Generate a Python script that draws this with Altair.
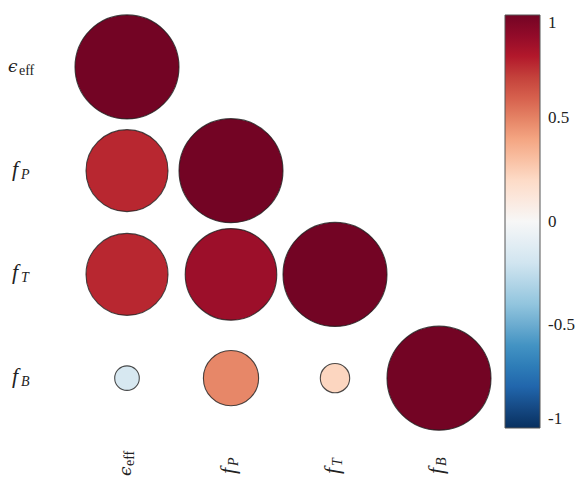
import altair as alt
import pandas as pd

# Variables of the correlation matrix and how their names are typeset
variables = ["eff", "P", "T", "B"]
main_text = ["ϵ", "f", "f", "f"]
sub_text = ["eff", "P", "T", "B"]

# Lower triangle of the correlation matrix (row variable, column variable, r)
row_vars = ["eff", "P", "P", "T", "T", "T", "B", "B", "B", "B"]
col_vars = ["eff", "eff", "P", "eff", "P", "T", "eff", "P", "T", "B"]
corr_values = [1.0, 0.77, 1.0, 0.77, 0.87, 1.0, -0.17, 0.49, 0.22, 1.0]

legend_values = [1, 0.5, 0, -0.5, -1]

# Diverging red-blue palette, stops from -1 to 1
palette_stops = [-1.0, -0.8, -0.6, -0.4, -0.2, 0.0, 0.2, 0.4, 0.6, 0.8, 1.0]
palette_colors = ["#08305f", "#2166ac", "#4393c3", "#92c5de", "#d1e5f0",
                  "#f7f7f7", "#fddbc7", "#f4a582", "#d6604d", "#b2182b",
                  "#730424"]

cells = pd.DataFrame({"row": row_vars, "col": col_vars, "r": corr_values})
labels = pd.DataFrame({"var": variables, "main": main_text, "sub": sub_text})
eps_labels = labels[labels["var"] == "eff"]
f_labels = labels[labels["var"] != "eff"]

SERIF = "Liberation Serif"
GREEK = "DejaVu Serif"
INK = "#222222"
MAX_SIZE = 104 * 104  # symbol size (bounding-box area) for |r| = 1

x_scale = alt.Scale(domain=variables)
y_scale = alt.Scale(domain=variables)

circles = (
    alt.Chart(cells)
    .transform_calculate(area="pow(0.08 + 0.92 * abs(datum.r), 2)")
    .mark_circle(opacity=1, stroke="#1e1e1e", strokeWidth=1.1, strokeOpacity=0.8)
    .encode(
        x=alt.X("col:N", scale=x_scale, axis=None),
        y=alt.Y("row:N", scale=y_scale, axis=None),
        size=alt.Size(
            "area:Q",
            scale=alt.Scale(domain=[0, 1], range=[0, MAX_SIZE], zero=True),
            legend=None,
        ),
        color=alt.Color(
            "r:Q",
            scale=alt.Scale(domain=palette_stops, range=palette_colors),
            legend=alt.Legend(
                title=None,
                orient="right",
                direction="vertical",
                values=legend_values,
                labelExpr="'' + datum.value",
                gradientLength=413,
                gradientThickness=35,
                gradientStrokeColor="#555555",
                gradientStrokeWidth=1,
                labelFont=SERIF,
                labelFontSize=17,
                labelColor=INK,
                labelOffset=8,
                labelBaseline="middle",
                offset=14,
                padding=0,
            ),
        ),
    )
)


def y_label(df, field, x, dy, size, style, font=SERIF):
    return alt.Chart(df).mark_text(
        align="left", baseline="alphabetic", font=font, fontSize=size,
        fontStyle=style, dy=dy, color=INK,
    ).encode(
        x=alt.value(x),
        y=alt.Y("var:N", scale=y_scale, axis=None),
        text=f"{field}:N",
    )


def x_label(df, field, y, dy, size, style, font=SERIF):
    return alt.Chart(df).mark_text(
        align="left", baseline="alphabetic", angle=270, font=font,
        fontSize=size, fontStyle=style, dy=dy, color=INK,
    ).encode(
        x=alt.X("var:N", scale=x_scale, axis=None),
        y=alt.value(y),
        text=f"{field}:N",
    )


layers = [
    circles,
    # row labels
    y_label(eps_labels, "main", -67, 5, 17, "italic", GREEK),
    y_label(eps_labels, "sub", -56, 8, 14, "normal"),
    y_label(f_labels, "main", -63, 5, 22, "italic"),
    y_label(f_labels, "sub", -54, 8, 14, "italic"),
    # column labels
    x_label(eps_labels, "main", 461, 4, 17, "italic", GREEK),
    x_label(eps_labels, "sub", 451, 7, 14, "normal"),
    x_label(f_labels, "main", 459, 4, 22, "italic"),
    x_label(f_labels, "sub", 451, 7, 14, "italic"),
]

chart = (
    alt.layer(*layers)
    .properties(
        width=416,
        height=415,
        autosize=alt.AutoSizeParams(type="none"),
        padding={"left": 75, "top": 15, "right": 88, "bottom": 50},
    )
    .configure_view(stroke=None)
    .configure_legend(labelFont=SERIF, labelFontSize=17)
)

chart.save("out.html", embed_options={"renderer": "svg", "actions": False})
